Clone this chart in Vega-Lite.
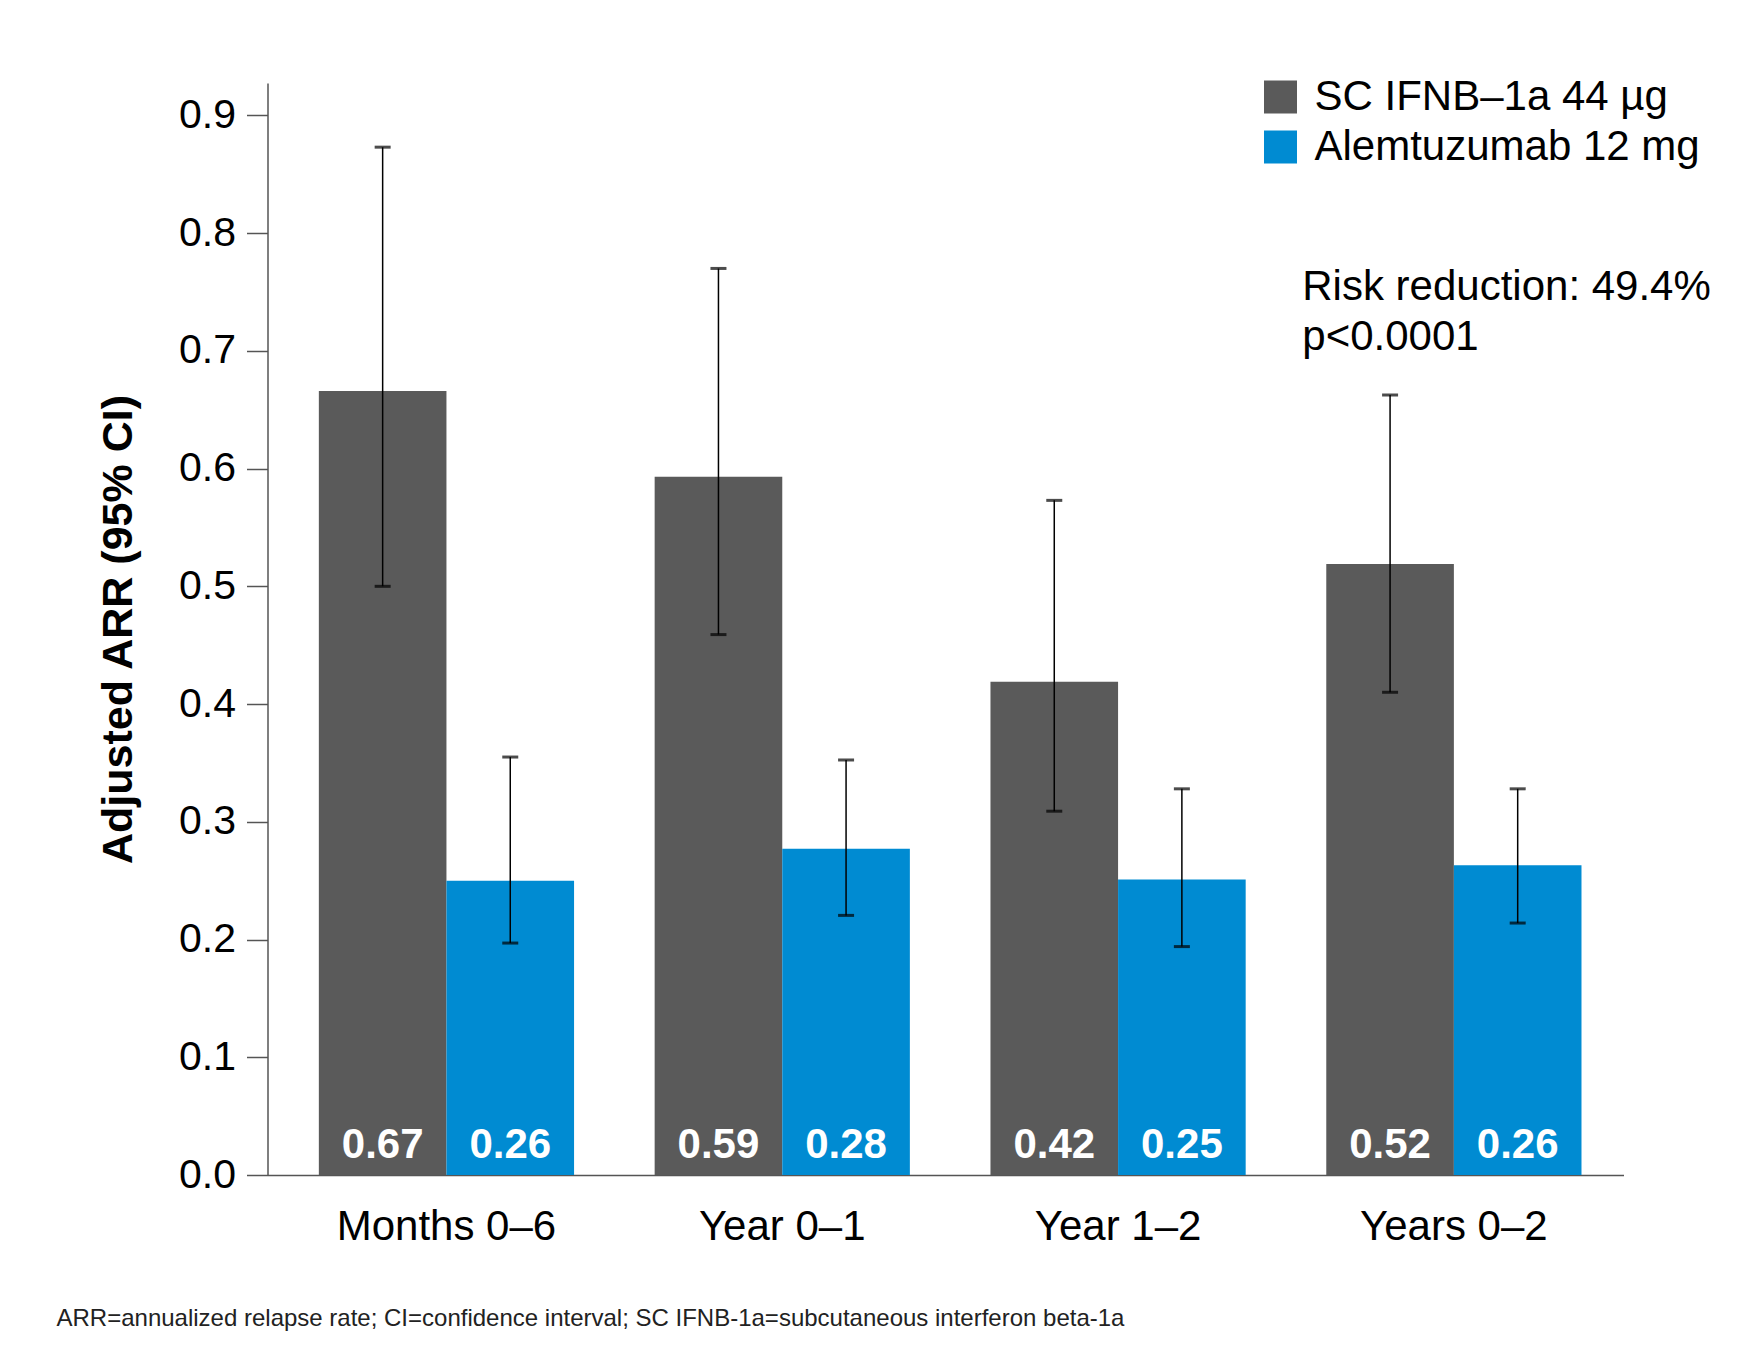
{
  "$schema": "https://vega.github.io/schema/vega-lite/v6.json",
  "width": 1356,
  "height": 1092,
  "autosize": {"type": "none"},
  "padding": {"left": 267.5, "top": 83, "right": 116.5, "bottom": 173},
  "background": "white",
  "title": {
    "text": "ARR=annualized relapse rate; CI=confidence interval; SC IFNB-1a=subcutaneous interferon beta-1a",
    "orient": "bottom",
    "anchor": "start",
    "frame": "group",
    "dx": -211,
    "offset": 60,
    "fontSize": 24,
    "fontWeight": "normal",
    "font": "Liberation Sans",
    "color": "#222222"
  },
  "config": {
    "view": {"stroke": null},
    "font": "Liberation Sans",
    "axis": {"labelFont": "Liberation Sans", "titleFont": "Liberation Sans", "grid": false},
    "legend": {"labelFont": "Liberation Sans"}
  },
  "datasets": {
    "arr": [
      {"period": "Months 0–6", "treatment": "SC IFNB–1a 44 µg", "arr": 0.666, "label": "0.67", "lo": 0.500, "hi": 0.873},
      {"period": "Months 0–6", "treatment": "Alemtuzumab 12 mg", "arr": 0.250, "label": "0.26", "lo": 0.197, "hi": 0.355},
      {"period": "Year 0–1", "treatment": "SC IFNB–1a 44 µg", "arr": 0.593, "label": "0.59", "lo": 0.459, "hi": 0.770},
      {"period": "Year 0–1", "treatment": "Alemtuzumab 12 mg", "arr": 0.277, "label": "0.28", "lo": 0.2205, "hi": 0.3525},
      {"period": "Year 1–2", "treatment": "SC IFNB–1a 44 µg", "arr": 0.419, "label": "0.42", "lo": 0.309, "hi": 0.573},
      {"period": "Year 1–2", "treatment": "Alemtuzumab 12 mg", "arr": 0.251, "label": "0.25", "lo": 0.194, "hi": 0.328},
      {"period": "Years 0–2", "treatment": "SC IFNB–1a 44 µg", "arr": 0.519, "label": "0.52", "lo": 0.410, "hi": 0.6625},
      {"period": "Years 0–2", "treatment": "Alemtuzumab 12 mg", "arr": 0.263, "label": "0.26", "lo": 0.214, "hi": 0.328}
    ],
    "note": [
      {"period": "Years 0–2", "yv": 0.7436, "line": "Risk reduction: 49.4%"},
      {"period": "Years 0–2", "yv": 0.7011, "line": "p<0.0001"}
    ]
  },
  "encoding": {
    "x": {
      "field": "period",
      "type": "nominal",
      "sort": ["Months 0–6", "Year 0–1", "Year 1–2", "Years 0–2"],
      "scale": {"paddingInner": 0.24, "paddingOuter": 0.139, "align": 0.55},
      "axis": {
        "title": null,
        "labelAngle": 0,
        "labelFontSize": 42,
        "labelColor": "#000000",
        "labelPadding": 31,
        "labelLimit": 0,
        "ticks": false,
        "domainColor": "#555555",
        "domainWidth": 1.5
      }
    }
  },
  "layer": [
    {
      "data": {"name": "arr"},
      "mark": {"type": "bar"},
      "encoding": {
        "xOffset": {
          "field": "treatment",
          "type": "nominal",
          "scale": {"domain": ["SC IFNB–1a 44 µg", "Alemtuzumab 12 mg"], "paddingInner": 0, "paddingOuter": 0}
        },
        "y": {
          "field": "arr",
          "type": "quantitative",
          "scale": {"domain": [0, 0.9275], "nice": false, "zero": true},
          "axis": {
            "title": "Adjusted ARR (95% CI)",
            "titleFontSize": 43,
            "titleFontWeight": "bold",
            "titleColor": "#000000",
            "titlePadding": 38,
            "values": [0, 0.1, 0.2, 0.3, 0.4, 0.5, 0.6, 0.7, 0.8, 0.9],
            "format": ".1f",
            "labelFontSize": 41,
            "labelColor": "#000000",
            "labelPadding": 11,
            "tickSize": 21,
            "tickColor": "#555555",
            "tickWidth": 1.5,
            "domainColor": "#555555",
            "domainWidth": 1.5
          }
        },
        "color": {
          "field": "treatment",
          "type": "nominal",
          "scale": {"domain": ["SC IFNB–1a 44 µg", "Alemtuzumab 12 mg"], "range": ["#5a5a5a", "#008bd2"]},
          "legend": {
            "title": null,
            "orient": "none",
            "legendX": 992,
            "legendY": -7,
            "padding": 0,
            "symbolType": "square",
            "symbolSize": 1089,
            "symbolStrokeWidth": 0,
            "labelFontSize": 42,
            "labelColor": "#000000",
            "labelOffset": 13,
            "labelLimit": 0,
            "rowPadding": 8
          }
        }
      }
    },
    {
      "data": {"name": "arr"},
      "mark": {"type": "rule", "color": "#000000", "strokeWidth": 1.5},
      "encoding": {
        "xOffset": {"field": "treatment", "type": "nominal", "scale": {"domain": ["SC IFNB–1a 44 µg", "Alemtuzumab 12 mg"], "paddingInner": 0, "paddingOuter": 0}},
        "y": {"field": "lo", "type": "quantitative"},
        "y2": {"field": "hi"}
      }
    },
    {
      "data": {"name": "arr"},
      "mark": {"type": "tick", "color": "#000000", "size": 16, "thickness": 3, "orient": "horizontal"},
      "encoding": {
        "xOffset": {"field": "treatment", "type": "nominal", "scale": {"domain": ["SC IFNB–1a 44 µg", "Alemtuzumab 12 mg"], "paddingInner": 0, "paddingOuter": 0}},
        "y": {"field": "hi", "type": "quantitative"}
      }
    },
    {
      "data": {"name": "arr"},
      "mark": {"type": "tick", "color": "#000000", "size": 16, "thickness": 3, "orient": "horizontal"},
      "encoding": {
        "xOffset": {"field": "treatment", "type": "nominal", "scale": {"domain": ["SC IFNB–1a 44 µg", "Alemtuzumab 12 mg"], "paddingInner": 0, "paddingOuter": 0}},
        "y": {"field": "lo", "type": "quantitative"}
      }
    },
    {
      "data": {"name": "arr"},
      "mark": {"type": "text", "color": "#ffffff", "fontSize": 42, "fontWeight": "bold", "align": "center", "baseline": "alphabetic", "dy": -17.5},
      "encoding": {
        "xOffset": {"field": "treatment", "type": "nominal", "scale": {"domain": ["SC IFNB–1a 44 µg", "Alemtuzumab 12 mg"], "paddingInner": 0, "paddingOuter": 0}},
        "y": {"datum": 0, "type": "quantitative"},
        "text": {"field": "label", "type": "nominal"}
      }
    },
    {
      "data": {"name": "note"},
      "mark": {"type": "text", "color": "#000000", "fontSize": 42, "align": "left", "baseline": "alphabetic", "dx": -24},
      "encoding": {
        "x": {"field": "period", "type": "nominal", "bandPosition": 0, "sort": ["Months 0–6", "Year 0–1", "Year 1–2", "Years 0–2"]},
        "y": {"field": "yv", "type": "quantitative"},
        "text": {"field": "line", "type": "nominal"}
      }
    }
  ]
}
